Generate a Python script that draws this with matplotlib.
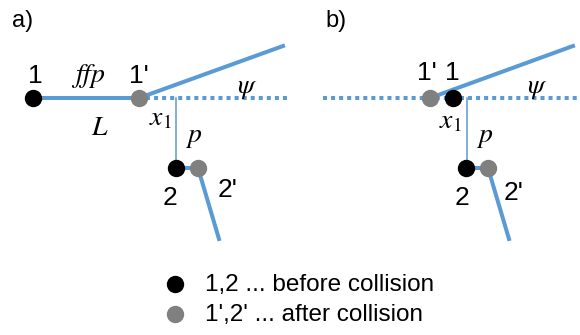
import matplotlib
matplotlib.use("Agg")
import matplotlib.pyplot as plt

BLUE = "#5b9bd5"
GRAY = "#808080"

# panel a geometry (pixel units, y downward)
a_p1 = (33, 98)
a_p1b = (139, 98)
a_psi_end = (283, 46)
a_dot = (146, 290)
a_vx = 176
a_p2 = (176, 168)
a_p2b = (198, 168)
a_out2 = (219, 239)

# panel b geometry
b_p1b = (430, 98)
b_p1 = (453, 98)
b_psi_end = (573, 46)
b_dot = (323, 577)
b_vx = 467
b_p2 = (466, 168)
b_p2b = (488, 168)
b_out2 = (509, 239)

legend_labels = ["1,2 ... before collision", "1',2' ... after collision"]
legend_colors = ["black", GRAY]
legend_y = [284, 314]

plt.rcParams["mathtext.fontset"] = "stix"

fig = plt.figure(figsize=(5.8, 3.35), dpi=100)
ax = fig.add_axes([0, 0, 1, 1])
ax.set_xlim(0, 580)
ax.set_ylim(335, 0)
ax.axis("off")

LW = 2.9
THIN = 1.1
MS = 11.5
lbl = dict(family="Liberation Sans", fontsize=19, ha="center", va="baseline")
tag = dict(family="Liberation Sans", fontsize=17, ha="center", va="baseline")
math = dict(fontsize=20, ha="center", va="center")


def panel(p1, p1b, psi_end, dot, vx, p2, p2b, out2, y0):
    # dotted continuation of the incoming direction
    ax.plot(dot, [y0, y0], color=BLUE, lw=LW, ls=(0, (1, 1)),
            dash_capstyle="butt", zorder=1)
    # scattered primary leaves from the after-collision position
    ax.plot([p1b[0], psi_end[0]], [y0, psi_end[1]], color=BLUE, lw=LW, zorder=2)
    # impact parameter
    ax.plot([vx, vx], [y0, p2[1]], color=BLUE, lw=THIN, zorder=1)
    # recoil of target
    ax.plot([p2[0], p2b[0]], [p2[1], p2b[1]], color=BLUE, lw=LW, zorder=2)
    ax.plot([p2b[0], out2[0]], [p2b[1], out2[1]], color=BLUE, lw=LW, zorder=2)
    ax.plot(*p1, "o", color="black", ms=MS, zorder=4)
    ax.plot(*p1b, "o", color=GRAY, ms=MS, zorder=3)
    ax.plot(*p2, "o", color="black", ms=MS, zorder=4)
    ax.plot(*p2b, "o", color=GRAY, ms=MS, zorder=3)


# panel a
ax.plot([a_p1[0], a_p1b[0]], [a_p1[1], a_p1b[1]], color=BLUE, lw=LW, zorder=2)
panel(a_p1, a_p1b, a_psi_end, a_dot, a_vx, a_p2, a_p2b, a_out2, 98)
ax.text(23, 27, "a)", **tag)
ax.text(35, 83, "1", **lbl)
ax.text(139, 83, "1'", **lbl)
ax.text(170, 205, "2", **lbl)
ax.text(228, 197, "2'", **lbl)
ax.text(88, 76, r"$ffp$", **math)
ax.text(247, 87, r"$\psi$", **math)
ax.text(160, 117, r"$x_1$", **math)
ax.text(100, 127, r"$L$", **math)
ax.text(194, 136, r"$p$", **math)

# panel b
panel(b_p1, b_p1b, b_psi_end, b_dot, b_vx, b_p2, b_p2b, b_out2, 98)
ax.text(336, 27, "b)", **tag)
ax.text(427, 80, "1'", **lbl)
ax.text(452, 80, "1", **lbl)
ax.text(462, 205, "2", **lbl)
ax.text(514, 200, "2'", **lbl)
ax.text(537, 87, r"$\psi$", **math)
ax.text(450, 120, r"$x_1$", **math)
ax.text(485, 136, r"$p$", **math)

# legend
for lab, col, y in zip(legend_labels, legend_colors, legend_y):
    ax.plot(175, y, "o", color=col, ms=MS)
    ax.text(205, y + 7, lab, family="Liberation Sans", fontsize=17.5,
            ha="left", va="baseline")

fig.savefig("out.png", dpi=100)
